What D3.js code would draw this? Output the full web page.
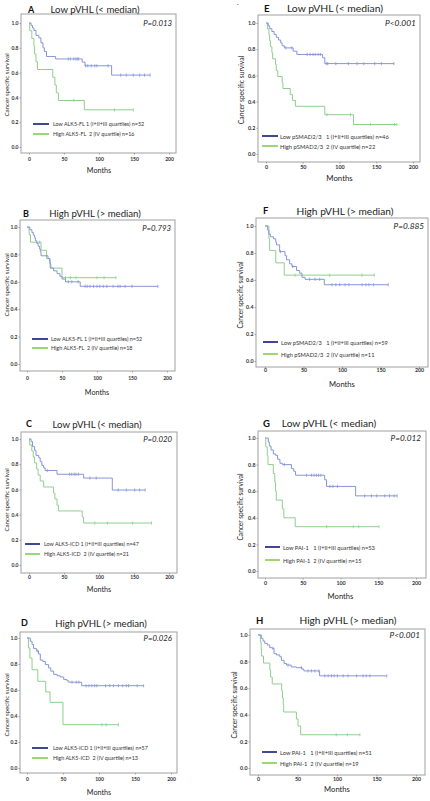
<!DOCTYPE html>
<html><head><meta charset="utf-8">
<script src="https://cdn.jsdelivr.net/npm/d3@7"></script>
<style>
html,body{margin:0;padding:0;background:#fff;}
svg{display:block;font-family:Lato,"Open Sans",sans-serif;}
</style></head>
<body><svg id="chart" width="430" height="801"></svg>
<script>
// ---------------- DATA ----------------
const panelIds = ["A","B","C","D","E","F","G","H"];
const panelTitles = ["Low pVHL (< median)","High pVHL (> median)","Low pVHL (< median)","High pVHL (> median)",
                     "Low pVHL (< median)","High pVHL (> median)","Low pVHL (< median)","High pVHL (> median)"];
const pValues = ["P=0.013","P=0.793","P=0.020","P=0.026","P<0.001","P=0.885","P=0.012","P<0.001"];
const lowLabels = [
  "Low ALK5-FL 1 (I+II+III quartiles) n=52",
  "Low ALK5-FL 1 (I+II+III quartiles) n=52",
  "Low ALK5-ICD 1 (I+II+III quartiles) n=47",
  "Low ALK5-ICD 1 (I+II+III quartiles) n=57",
  "Low pSMAD2/3   1 (I+II+III quartiles) n=46",
  "Low pSMAD2/3   1 (I+II+III quartiles) n=59",
  "Low PAI-1   1 (I+II+III quartiles) n=53",
  "Low PAI-1   1 (I+II+III quartiles) n=51"];
const highLabels = [
  "High ALK5-FL  2 (IV quartile) n=16",
  "High ALK5-FL  2 (IV quartile) n=18",
  "High ALK5-ICD  2 (IV quartile) n=21",
  "High ALK5-ICD  2 (IV quartile) n=13",
  "High pSMAD2/3  2 (IV quartile) n=22",
  "High pSMAD2/3  2 (IV quartile) n=11",
  "High PAI-1  2 (IV quartile) n=15",
  "High PAI-1  2 (IV quartile) n=19"];
const xTicks = [0,50,100,150,200];
const yTicks = [0,0.2,0.4,0.6,0.8,1.0];
const xAxisTitle = "Months";
const yAxisTitle = "Cancer specific survival";

// Kaplan-Meier steps [month, survival], end of follow-up, censored times
const A_low = [[0,1],[3,0.98],[5,0.96],[7,0.94],[10,0.90],[14,0.88],[17,0.84],[20,0.80],[22,0.77],[25,0.73],[38,0.71],[76,0.685],[80,0.655],[118,0.58]];
const A_lowEnd = 173;
const A_lowCens = [56,59,64,67,69,71,81,84,89,94,97,113,131,139,149,158,165,173];
const A_high = [[0,1],[1,0.9375],[4,0.875],[7,0.8125],[8,0.75],[10,0.6875],[12,0.625],[34,0.5625],[37,0.5],[39,0.4375],[42,0.375],[79,0.30]];
const A_highEnd = 149;
const A_highCens = [64,122,149];

const B_low = [[0,1],[4,0.98],[7,0.96],[9,0.94],[11,0.92],[12,0.90],[14,0.88],[16,0.86],[18,0.84],[19,0.82],[20,0.79],[30,0.77],[32,0.75],[33,0.73],[34,0.70],[38,0.68],[43,0.66],[47,0.64],[50,0.62],[55,0.60],[76,0.567]];
const B_lowEnd = 187;
const B_lowCens = [59,64,73,83,86,90,95,100,104,109,114,123,130,133,140,150,187];
const B_high = [[0,1],[3,0.944],[5,0.889],[20,0.830],[28,0.770],[33,0.70],[50,0.63]];
const B_highEnd = 127;
const B_highCens = [18,55,62,70,100,110,127];

const C_low = [[0,1],[3,0.98],[5,0.94],[8,0.91],[10,0.87],[14,0.85],[16,0.82],[18.5,0.79],[21,0.77],[23,0.75],[40,0.72],[78,0.69],[119,0.595]];
const C_lowEnd = 166;
const C_lowCens = [26,58,61,64.5,67,70.6,87,96,127.5,139,151,158,166];
const C_high = [[0,1],[1,0.952],[4,0.905],[6,0.857],[8,0.810],[11,0.762],[13,0.714],[16,0.667],[21,0.619],[35,0.571],[37,0.524],[40,0.476],[42,0.429],[76,0.381],[78,0.333]];
const C_highEnd = 175;
const C_highCens = [94,112,148,175];

const D_low = [[0,1],[4.6,0.975],[7,0.95],[9,0.92],[13,0.90],[16,0.877],[18.5,0.83],[22,0.82],[25.5,0.795],[30,0.77],[33,0.745],[37,0.72],[41.7,0.71],[46,0.70],[51,0.68],[55.6,0.67],[58,0.66],[76,0.633]];
const D_lowEnd = 162;
const D_lowCens = [15,62.5,68.5,72,82,86,90,94,97,109,115,120,127,133,138,141,153,162];
const D_high = [[0,1],[2,0.923],[4,0.846],[7,0.756],[15,0.667],[26,0.585],[32,0.505],[50,0.333]];
const D_highEnd = 127;
const D_highCens = [104,110,127];

const E_low = [[0,1],[3,0.978],[5,0.957],[8,0.935],[11,0.913],[14,0.891],[17,0.87],[20,0.848],[22,0.826],[25,0.81],[37,0.785],[42,0.76],[77,0.735],[80,0.69]];
const E_lowEnd = 174;
const E_lowCens = [27,35,56,60,64,67,71,74,82,84,95,112,124,133,148,157,174];
const E_high = [[0,1],[2,0.955],[4,0.909],[5,0.864],[6,0.818],[8,0.773],[9,0.727],[13,0.682],[14,0.636],[16,0.591],[22,0.545],[23,0.5],[33,0.455],[36,0.409],[40,0.364],[80,0.30],[119,0.225]];
const E_highEnd = 178;
const E_highCens = [83,115,142,175,178];

const F_low = [[0,1],[3.5,0.97],[5,0.94],[7,0.92],[11,0.905],[14,0.88],[15,0.86],[19,0.81],[26,0.78],[28,0.75],[32,0.72],[35,0.70],[41,0.67],[45,0.65],[48,0.62],[52,0.605],[77,0.565]];
const F_lowEnd = 160;
const F_lowCens = [20,36,58,65,71,87,92,97,104,109,126,131,135,141,160];
const F_high = [[0,1],[5,0.909],[6,0.818],[14,0.727],[25,0.636]];
const F_highEnd = 142;
const F_highCens = [39,84,126,142];

const G_low = [[0,1],[4.4,0.97],[5.7,0.94],[8,0.91],[11,0.88],[14,0.87],[16.7,0.84],[19.8,0.81],[23,0.80],[35,0.77],[38,0.75],[40.5,0.72],[79,0.686],[81.5,0.636],[120,0.565]];
const G_lowEnd = 175;
const G_lowCens = [25.5,55,61.7,65,68,71,74,86,90,96,132,141,148,158.6,165,171,175];
const G_high = [[0,1],[1,0.933],[3,0.867],[4,0.8],[11,0.733],[13,0.667],[14,0.6],[15,0.533],[23,0.467],[25,0.4],[40,0.333]];
const G_highEnd = 151;
const G_highCens = [81.5,117,124,151];

const H_low = [[0,1],[4.2,0.975],[6.3,0.955],[8.5,0.937],[11.8,0.925],[14.8,0.905],[17.8,0.90],[20.3,0.86],[23.3,0.85],[27.5,0.837],[29.6,0.81],[33,0.786],[36,0.774],[42,0.76],[48.6,0.754],[55.8,0.744],[58,0.73],[78,0.693]];
const H_lowEnd = 163;
const H_lowCens = [19,38,55,63.4,67.6,72,77,84.6,88.8,93,96.4,100.6,107.8,114,124.7,133,137,141.6,163];
const H_high = [[0,1],[3,0.947],[4,0.895],[4.5,0.842],[7,0.789],[15,0.737],[16,0.684],[18,0.632],[30,0.579],[31,0.526],[32,0.474],[32.5,0.421],[48.6,0.368],[50.7,0.316],[54,0.25]];
const H_highEnd = 129;
const H_highCens = [99,113,129];

// ---------------- LAYOUT (pixels) ----------------
const layout = {
  A:{box:[21,14,176,153], x0:29,  x1:169, y1:23,  y0:147, letter:[28,9],   title:[95,9],   p:[172,23], leg:[33,49,124,134,53],   tickY:160, monthsY:170, ylab:[6,85],   fs:1.0},
  B:{box:[20,220,175,371],x0:27,  x1:167, y1:227, y0:364, letter:[23,213], title:[95,213], p:[171,228],leg:[32,48,339,348,51],   tickY:379, monthsY:392, ylab:[6,285],  fs:1.0},
  C:{box:[21,432,177,573],x0:29,  x1:169, y1:439, y0:565, letter:[26,423], title:[97,424], p:[172,439],leg:[25,40,544,554,44],   tickY:578, monthsY:589, ylab:[6,500],  fs:1.0},
  D:{box:[20,632,177,773],x0:27,  x1:171, y1:638, y0:768, letter:[21,622], title:[101,623],p:[172,638],leg:[32,48,748,758,53],   tickY:780, monthsY:792, ylab:[6,705],  fs:1.0},
  E:{box:[258,15,420,162],x0:266, x1:413, y1:23,  y0:154, letter:[264,8],  title:[335,8],  p:[416,23], leg:[262,278,136,146,280],tickY:168, monthsY:178, ylab:[241,90],  fs:1.08},
  F:{box:[256,218,428,367],x0:265,x1:419, y1:226, y0:361, letter:[263,210],title:[345,211],p:[424,226],leg:[263,278,342,354,281],tickY:371, monthsY:384, ylab:[240,295], fs:1.06},
  G:{box:[258,431,426,578],x0:265,x1:416, y1:438, y0:571, letter:[263,423],title:[329,423],p:[421,438],leg:[265,280,547,560,283],tickY:584, monthsY:596, ylab:[240,507], fs:1.06},
  H:{box:[250,629,425,775],x0:258,x1:416, y1:635, y0:768, letter:[256,620],title:[348,620],p:[420,635],leg:[262,277,752,763,280],tickY:780, monthsY:789, ylab:[234,705], fs:1.06}
};

const curves = {
  A:{low:A_low,lowEnd:A_lowEnd,lowCens:A_lowCens,high:A_high,highEnd:A_highEnd,highCens:A_highCens},
  B:{low:B_low,lowEnd:B_lowEnd,lowCens:B_lowCens,high:B_high,highEnd:B_highEnd,highCens:B_highCens},
  C:{low:C_low,lowEnd:C_lowEnd,lowCens:C_lowCens,high:C_high,highEnd:C_highEnd,highCens:C_highCens},
  D:{low:D_low,lowEnd:D_lowEnd,lowCens:D_lowCens,high:D_high,highEnd:D_highEnd,highCens:D_highCens},
  E:{low:E_low,lowEnd:E_lowEnd,lowCens:E_lowCens,high:E_high,highEnd:E_highEnd,highCens:E_highCens},
  F:{low:F_low,lowEnd:F_lowEnd,lowCens:F_lowCens,high:F_high,highEnd:F_highEnd,highCens:F_highCens},
  G:{low:G_low,lowEnd:G_lowEnd,lowCens:G_lowCens,high:G_high,highEnd:G_highEnd,highCens:G_highCens},
  H:{low:H_low,lowEnd:H_lowEnd,lowCens:H_lowCens,high:H_high,highEnd:H_highEnd,highCens:H_highCens}
};

const lowColor = "#8795d8", highColor = "#8fce8f";
const lowLegColor = "#2c3486", highLegColor = "#93d262";

// ---------------- DRAW ----------------
const svg = d3.select("#chart");
svg.append("text").attr("x",237).attr("y",6).attr("font-size",6).attr("fill","#333").text("·");

function survAt(steps, t){
  let s = steps[0][1];
  for (const [tt,v] of steps){ if (tt <= t) s = v; }
  return s;
}

panelIds.forEach((id,i)=>{
  const L = layout[id], C = curves[id], fs = L.fs;
  const g = svg.append("g");
  const [bl,bt,br,bb] = L.box;
  const x = d3.scaleLinear().domain([0,200]).range([L.x0,L.x1]);
  const y = d3.scaleLinear().domain([0,1]).range([L.y0,L.y1]);

  g.append("rect").attr("x",bl).attr("y",bt).attr("width",br-bl).attr("height",bb-bt)
    .attr("fill","none").attr("stroke","#a0a0a0").attr("stroke-width",1);

  // axes
  const xa = g.append("g").attr("transform",`translate(0,${bb})`)
    .call(d3.axisBottom(x).tickValues(xTicks).tickSize(1.5).tickPadding(L.tickY-bb-1.5-2.8*fs).tickFormat(d3.format("d")));
  const ya = g.append("g").attr("transform",`translate(${bl},0)`)
    .call(d3.axisLeft(y).tickValues(yTicks).tickSize(1.5).tickPadding(1).tickFormat(d3.format(".1f")));
  [xa,ya].forEach(a=>{
    a.select(".domain").remove();
    a.selectAll("line").attr("stroke","#777").attr("stroke-width",0.6);
    a.selectAll("text").attr("font-size",5*fs).attr("font-weight","bold").attr("fill","#333")
      .attr("font-family","Lato, sans-serif");
  });

  // curves
  const line = d3.line().x(d=>x(d[0])).y(d=>y(d[1])).curve(d3.curveStepAfter);
  const plotCurve = (steps,end,cens,col)=>{
    const pts = steps.concat([[end, steps[steps.length-1][1]]]);
    g.append("path").attr("d",line(pts)).attr("fill","none").attr("stroke",col).attr("stroke-width",1);
    g.selectAll(null).data(cens).enter().append("line")
      .attr("x1",d=>x(d)).attr("x2",d=>x(d))
      .attr("y1",d=>y(survAt(steps,d))-1.6).attr("y2",d=>y(survAt(steps,d))+1.6)
      .attr("stroke",col).attr("stroke-width",0.8);
  };
  plotCurve(C.high,C.highEnd,C.highCens,highColor);
  plotCurve(C.low,C.lowEnd,C.lowCens,lowColor);

  // texts
  g.append("text").attr("x",L.letter[0]).attr("y",L.letter[1]).attr("dominant-baseline","central")
    .attr("font-size",9*fs).attr("font-weight","bold").attr("fill","#111").text(id);
  g.append("text").attr("x",L.title[0]).attr("y",L.title[1]).attr("dominant-baseline","central")
    .attr("text-anchor","middle").attr("font-size",9.6*fs).attr("fill","#222").text(panelTitles[i]);
  g.append("text").attr("x",L.p[0]).attr("y",L.p[1]).attr("dominant-baseline","central")
    .attr("text-anchor","end").attr("font-size",7.8*fs).attr("font-style","italic").attr("fill","#222").text(pValues[i]);
  g.append("text").attr("x",(L.x0+L.x1)/2).attr("y",L.monthsY).attr("dominant-baseline","central")
    .attr("text-anchor","middle").attr("font-size",7.2*fs).attr("fill","#222").text(xAxisTitle);
  g.append("text").attr("transform",`translate(${L.ylab[0]},${L.ylab[1]}) rotate(-90)`).attr("dominant-baseline","central")
    .attr("text-anchor","middle").attr("font-size",6.2*fs).attr("fill","#222").text(yAxisTitle);

  // legend
  const [lx1,lx2,ly1,ly2,tx] = L.leg;
  [[ly1,lowLegColor,lowLabels[i]],[ly2,highLegColor,highLabels[i]]].forEach(([ly,col,txt])=>{
    g.append("line").attr("x1",lx1).attr("x2",lx2).attr("y1",ly).attr("y2",ly)
      .attr("stroke",col).attr("stroke-width",1.8);
    g.append("text").attr("x",tx).attr("y",ly).attr("dominant-baseline","central")
      .attr("font-size",5.4*fs).attr("fill","#333").attr("xml:space","preserve").style("white-space","pre").text(txt);
  });
});
</script></body></html>
